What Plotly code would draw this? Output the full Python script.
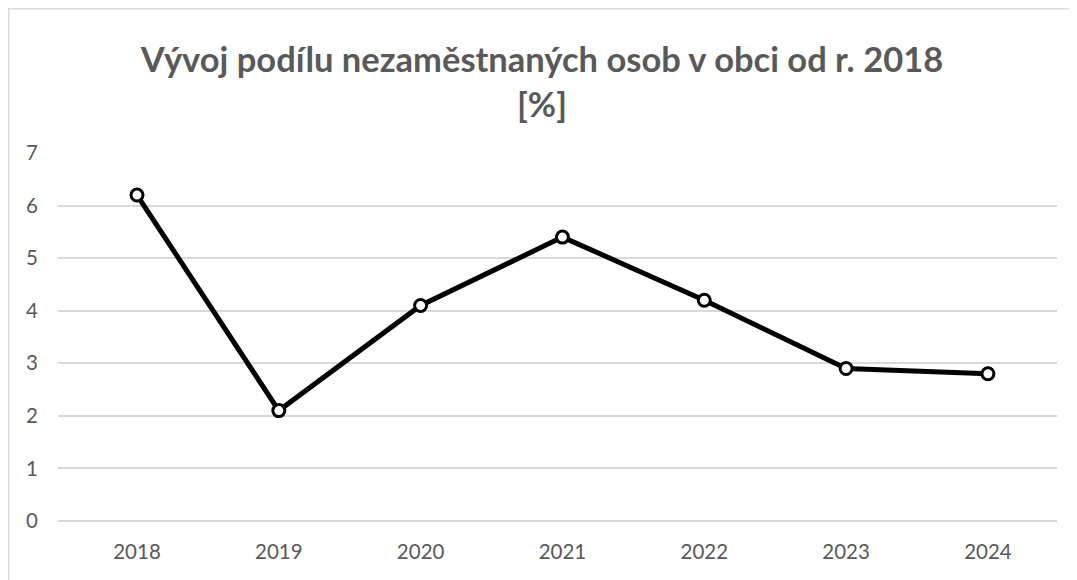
import plotly.graph_objects as go

years = ["2018", "2019", "2020", "2021", "2022", "2023", "2024"]
unemployment = [6.2, 2.1, 4.1, 5.4, 4.2, 2.9, 2.8]
y_ticks = [0, 1, 2, 3, 4, 5, 6, 7]

title_text = "Vývoj podílu nezaměstnaných osob v obci od r. 2018<br>[%]"

W, H = 1068, 580
L, R, T, B = 50, 19, 145, 67
pw, ph = W - L - R, H - T - B

fig = go.Figure()
fig.add_trace(go.Scatter(
    x=years, y=unemployment, mode="lines+markers",
    line=dict(color="black", width=5),
    marker=dict(symbol="circle", size=12, color="white",
                line=dict(color="black", width=3)),
    showlegend=False, cliponaxis=False,
))

fig.update_layout(
    width=W, height=H,
    paper_bgcolor="white", plot_bgcolor="white",
    margin=dict(l=L, r=R, t=T, b=B),
    title=dict(text=title_text, x=0.5, xanchor="center", y=0.889, yanchor="top",
               font=dict(family="Lato", size=34.5, color="#595959", weight="bold")),
    font=dict(family="Lato", color="#595959"),
    xaxis=dict(type="category", range=[-0.557, 6.487], showgrid=False, showline=False,
               zeroline=False, ticks="", tickfont=dict(size=20.5, color="#595959"),
               ticklabelstandoff=16),
    yaxis=dict(range=[0, 7], tickvals=y_ticks, showgrid=True, gridcolor="#d9d9d9",
               gridwidth=1.5, zeroline=True, zerolinecolor="#d9d9d9", zerolinewidth=1.5,
               showline=False, ticks="",
               tickfont=dict(size=20.5, color="#595959"), ticklabelstandoff=19),
    shapes=[dict(type="rect", xref="paper", yref="paper",
                 x0=(0.5 - L) / pw, x1=(W - 1 - L) / pw,
                 y0=-0.4, y1=1 + (T - 0.5) / ph,
                 line=dict(color="#dcdcdc", width=2), fillcolor="rgba(0,0,0,0)", layer="below")],
)

fig.write_html("out.html")
